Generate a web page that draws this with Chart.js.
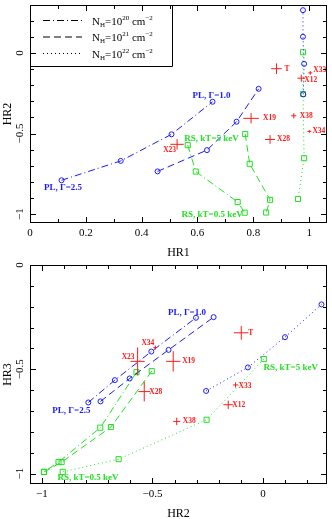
<!DOCTYPE html>
<html>
<head>
<meta charset="utf-8">
<script src="https://cdn.jsdelivr.net/npm/chart.js@4.4.0/dist/chart.umd.min.js"></script>
<style>
  html, body { margin: 0; padding: 0; background: #fff; }
  #wrap { position: relative; width: 332px; height: 519px; }
  canvas { position: absolute; left: 0; }
</style>
</head>
<body>
<div id="wrap">
  <canvas id="topChart" width="332" height="260" style="top:0"></canvas>
  <canvas id="bottomChart" width="332" height="259" style="top:260px"></canvas>
</div>
<script>
// Power-law models, Gamma = 2.5, 2.0, 1.5, 1.0
const pl20HR1 = [0.113, 0.325, 0.507, 0.654]
const pl20HR2 = [-0.790, -0.670, -0.505, -0.303]
const pl20HR3 = [-0.659, -0.552, -0.415, -0.253]
const pl21HR1 = [0.457, 0.634, 0.740, 0.819]
const pl21HR2 = [-0.735, -0.603, -0.427, -0.223]
const pl21HR3 = [-0.654, -0.544, -0.407, -0.250]
const pl22HR1 = [0.979, 0.982, 0.978, 0.978]
const pl22HR2 = [-0.257, -0.068, 0.100, 0.265]
const pl22HR3 = [-0.604, -0.491, -0.346, -0.189]

// Raymond-Smith models, kT = 5 ... 0.5 keV
const rs20HR1 = [0.565, 0.594, 0.744, 0.769]
const rs20HR2 = [-0.572, -0.736, -0.925, -0.991]
const rs20HR3 = [-0.514, -0.780, -0.945, -0.992]
const rs21HR1 = [0.771, 0.787, 0.860, 0.846]
const rs21HR2 = [-0.503, -0.688, -0.911, -0.990]
const rs21HR3 = [-0.509, -0.777, -0.945, -0.992]
const rs22HR1 = [0.978, 0.978, 0.982, 0.960]
const rs22HR2 = [0.004, -0.255, -0.653, -0.906]
const rs22HR3 = [-0.451, -0.742, -0.931, -0.992]

// Sources with errors
const srcNames = ["T", "X33", "X12", "X19", "X38", "X34", "X28", "X23"]
const srcHR1 = [0.883, 1.004, 0.972, 0.792, 0.945, 1.001, 0.860, 0.527]
const srcHR1Err = [0.019, 0.007, 0.014, 0.028, 0.009, 0.007, 0.018, 0.024]
const srcHR2 = [-0.098, -0.124, -0.157, -0.406, -0.390, -0.487, -0.537, -0.567]
const srcHR2Err = [0.033, 0.012, 0.022, 0.032, 0.016, 0.008, 0.027, 0.032]
const srcHR3 = [-0.325, -0.575, -0.670, -0.462, -0.750, -0.396, -0.607, -0.462]
const srcHR3Err = [0.033, 0.012, 0.020, 0.049, 0.018, 0.010, 0.047, 0.067]

// Column densities in legend (log NH)
const nhExps = ["20", "21", "22"]

// Tick labels
const topXTicks = [0, 0.2, 0.4, 0.6, 0.8, 1]
const topYTicks = [0, -0.5, -1]
const botXTicks = [-1, -0.5, 0]
const botYTicks = [0, -0.5, -1]

const BLUE = "#1a1aff"
const GREEN = "#22e022"
const RED = "#ff1a1a"
const FONT = "'Liberation Serif', 'DejaVu Serif', serif"
const dashes = [[7, 3, 1, 3], [7, 4], [1, 3]]

const models = [
  { kind: "pl", n: 0, hr1: pl20HR1, hr2: pl20HR2, hr3: pl20HR3 },
  { kind: "pl", n: 1, hr1: pl21HR1, hr2: pl21HR2, hr3: pl21HR3 },
  { kind: "pl", n: 2, hr1: pl22HR1, hr2: pl22HR2, hr3: pl22HR3 },
  { kind: "rs", n: 0, hr1: rs20HR1, hr2: rs20HR2, hr3: rs20HR3 },
  { kind: "rs", n: 1, hr1: rs21HR1, hr2: rs21HR2, hr3: rs21HR3 },
  { kind: "rs", n: 2, hr1: rs22HR1, hr2: rs22HR2, hr3: rs22HR3 },
]

function buildDatasets(kx, ky) {
  const sets = models.map((m) => {
    const col = m.kind === "pl" ? BLUE : GREEN
    return {
      data: m[kx].map((v, i) => ({ x: v, y: m[ky][i] })),
      showLine: true,
      borderColor: col,
      borderWidth: 1,
      borderDash: dashes[m.n],
      pointStyle: m.kind === "pl" ? "circle" : "rect",
      pointRadius: m.kind === "pl" ? 2.5 : 3.6,
      pointBorderColor: col,
      pointBorderWidth: 1,
      pointBackgroundColor: "rgba(0,0,0,0)",
      clip: false,
    }
  })
  const src = { HR1: srcHR1, HR2: srcHR2, HR3: srcHR3 }
  const err = { HR1: srcHR1Err, HR2: srcHR2Err, HR3: srcHR3Err }
  const X = kx.toUpperCase(), Y = ky.toUpperCase()
  sets.push({
    isSource: true,
    data: srcNames.map((n, i) => ({
      x: src[X][i], y: src[Y][i], ex: err[X][i], ey: err[Y][i], name: n,
    })),
    showLine: false,
    pointRadius: 0,
    borderColor: RED,
  })
  return sets
}

// Frame, inward ticks, tick labels, axis titles
const framePlugin = {
  id: "frame",
  afterDraw(chart, args, o) {
    const { ctx, chartArea: a, scales } = chart
    const x = scales.x, y = scales.y
    ctx.save()
    ctx.strokeStyle = "#000"
    ctx.lineWidth = 1
    ctx.strokeRect(a.left + 0.5, a.top + 0.5, a.right - a.left - 1, a.bottom - a.top - 1)
    const eachTick = (sc, step, major, fn) => {
      const start = Math.ceil(sc.min / step - 1e-6)
      for (let k = start; k * step <= sc.max + 1e-9; k++) {
        const v = k * step
        const isMajor = Math.abs(v / major - Math.round(v / major)) < 1e-6
        fn(sc.getPixelForValue(v), isMajor ? 6 : 4)
      }
    }
    ctx.beginPath()
    eachTick(x, o.xStep, o.xMajor, (px, len) => {
      px = Math.round(px) + 0.5
      ctx.moveTo(px, a.bottom); ctx.lineTo(px, a.bottom - len)
      ctx.moveTo(px, a.top); ctx.lineTo(px, a.top + len)
    })
    eachTick(y, o.yStep, o.yMajor, (py, len) => {
      py = Math.round(py) + 0.5
      ctx.moveTo(a.left, py); ctx.lineTo(a.left + len, py)
      ctx.moveTo(a.right, py); ctx.lineTo(a.right - len, py)
    })
    ctx.stroke()

    const fmt = (v) => (v < 0 ? "\u2212" : "") + String(Math.abs(v))
    ctx.fillStyle = "#000"
    ctx.font = "11px " + FONT
    ctx.textAlign = "center"
    ctx.textBaseline = "middle"
    o.xTicks.forEach((v) => ctx.fillText(fmt(v), x.getPixelForValue(v), a.bottom + 10))
    o.yTicks.forEach((v) => {
      ctx.save()
      ctx.translate(a.left - 10, y.getPixelForValue(v))
      ctx.rotate(-Math.PI / 2)
      ctx.fillText(fmt(v), 0, 0)
      ctx.restore()
    })
    ctx.font = "12px " + FONT
    ctx.fillText(o.xTitle, (a.left + a.right) / 2, a.bottom + 30)
    ctx.save()
    ctx.translate(8, (a.top + a.bottom) / 2)
    ctx.rotate(-Math.PI / 2)
    ctx.fillText(o.yTitle, 0, 0)
    ctx.restore()
    ctx.restore()
  },
}

// Error crosses, source names and model annotations
const marksPlugin = {
  id: "marks",
  afterDatasetsDraw(chart, args, o) {
    const { ctx, scales: { x, y } } = chart
    ctx.save()
    chart.data.datasets.forEach((ds) => {
      if (!ds.isSource) return
      ctx.strokeStyle = RED
      ctx.lineWidth = 1
      ds.data.forEach((p) => {
        const px = x.getPixelForValue(p.x), py = y.getPixelForValue(p.y)
        ctx.beginPath()
        ctx.moveTo(x.getPixelForValue(p.x - p.ex), py)
        ctx.lineTo(x.getPixelForValue(p.x + p.ex), py)
        ctx.moveTo(px, y.getPixelForValue(p.y - p.ey))
        ctx.lineTo(px, y.getPixelForValue(p.y + p.ey))
        ctx.stroke()
        const off = o.nameOffsets[p.name]
        ctx.fillStyle = RED
        ctx.font = "bold 7.5px " + FONT
        ctx.textAlign = off[2] || "left"
        ctx.textBaseline = "middle"
        ctx.fillText(p.name, px + off[0], py + off[1])
      })
    })
    ctx.font = "bold 9px " + FONT
    ctx.textAlign = "left"
    ctx.textBaseline = "middle"
    o.notes.forEach((n) => {
      ctx.fillStyle = n.c
      ctx.fillText(n.t, x.getPixelForValue(n.x), y.getPixelForValue(n.y))
    })
    ctx.restore()
  },
}

// NH legend box (top panel)
const nhLegendPlugin = {
  id: "nhLegend",
  afterDraw(chart, args, o) {
    if (!o.show) return
    const { ctx, chartArea: a } = chart
    ctx.save()
    ctx.strokeStyle = "#000"
    ctx.lineWidth = 1
    ctx.beginPath()
    ctx.moveTo(a.left + 142.5, a.top)
    ctx.lineTo(a.left + 142.5, a.top + 61.5)
    ctx.lineTo(a.left, a.top + 61.5)
    ctx.stroke()
    nhExps.forEach((e, i) => {
      const ry = a.top + 15.5 + i * 16.5
      ctx.setLineDash(dashes[i])
      ctx.beginPath()
      ctx.moveTo(a.left + 13, ry)
      ctx.lineTo(a.left + 52, ry)
      ctx.stroke()
      ctx.setLineDash([])
      ctx.fillStyle = "#000"
      ctx.textBaseline = "alphabetic"
      ctx.textAlign = "left"
      let tx = a.left + 62
      const base = ry + 4
      const put = (t, size, dy) => {
        ctx.font = size + "px " + FONT
        ctx.fillText(t, tx, base + dy)
        tx += ctx.measureText(t).width
      }
      put("N", 11, 0)
      put("H", 7, 2)
      put("=10", 11, 0)
      put(e, 7, -5)
      put(" cm", 11, 0)
      put("\u22122", 7, -5)
    })
    ctx.restore()
  },
}

const common = {
  responsive: false,
  animation: false,
  events: [],
  plugins: { legend: { display: false }, tooltip: { enabled: false } },
}

new Chart(document.getElementById("topChart"), {
  type: "scatter",
  data: { datasets: buildDatasets("hr1", "hr2") },
  plugins: [framePlugin, marksPlugin, nhLegendPlugin],
  options: {
    ...common,
    layout: { padding: { left: 30, top: 1, right: 2, bottom: 37 } },
    scales: {
      x: { type: "linear", min: 0, max: 1.064, display: false },
      y: { type: "linear", min: -1.055, max: 0.297, display: false },
    },
    plugins: {
      ...common.plugins,
      frame: { xStep: 0.1, xMajor: 0.2, yStep: 0.1, yMajor: 0.5, xTicks: topXTicks, yTicks: topYTicks, xTitle: "HR1", yTitle: "HR2" },
      nhLegend: { show: true },
      marks: {
        nameOffsets: {
          T: [8, 0], X33: [3, -3], X12: [3, 2], X19: [12, 0], X38: [6, 0],
          X34: [3, 0], X28: [7, 0], X23: [-1, 6, "right"],
        },
        notes: [
          { t: "PL, \u0393=1.0", x: 0.582, y: -0.263, c: BLUE },
          { t: "PL, \u0393=2.5", x: 0.050, y: -0.836, c: BLUE },
          { t: "RS, kT=5 keV", x: 0.553, y: -0.531, c: GREEN },
          { t: "RS, kT=0.5 keV", x: 0.543, y: -1.006, c: GREEN },
        ],
      },
    },
  },
})

new Chart(document.getElementById("bottomChart"), {
  type: "scatter",
  data: { datasets: buildDatasets("hr2", "hr3") },
  plugins: [framePlugin, marksPlugin, nhLegendPlugin],
  options: {
    ...common,
    layout: { padding: { left: 30, top: 2, right: 4, bottom: 35 } },
    scales: {
      x: { type: "linear", min: -1.054, max: 0.29, display: false },
      y: { type: "linear", min: -1.05, max: 0, display: false },
    },
    plugins: {
      ...common.plugins,
      frame: { xStep: 0.1, xMajor: 0.5, yStep: 0.1, yMajor: 0.5, xTicks: botXTicks, yTicks: botYTicks, xTitle: "HR2", yTitle: "HR3" },
      nhLegend: { show: false },
      marks: {
        nameOffsets: {
          T: [7, 0], X33: [3, 1], X12: [4, 0], X38: [6, 0], X23: [-3, -4, "right"],
          X34: [-1, -5, "right"], X19: [9, 0], X28: [5, 0],
        },
        notes: [
          { t: "PL, \u0393=1.0", x: -0.430, y: -0.227, c: BLUE },
          { t: "PL, \u0393=2.5", x: -0.953, y: -0.700, c: BLUE },
          { t: "RS, kT=5 keV", x: 0.003, y: -0.492, c: GREEN },
          { t: "RS, kT=0.5 keV", x: -0.930, y: -1.022, c: GREEN },
        ],
      },
    },
  },
})
</script>
</body>
</html>
